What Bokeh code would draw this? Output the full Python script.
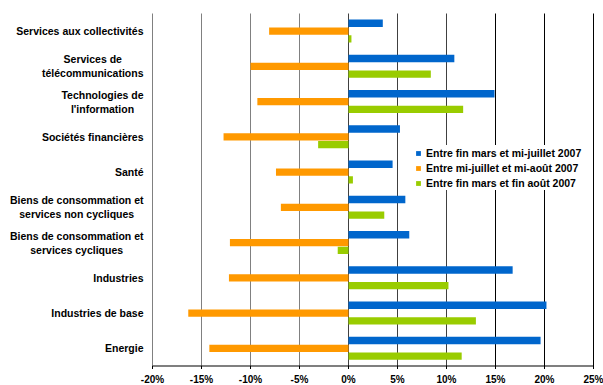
from bokeh.plotting import figure
from bokeh.models import ColumnDataSource, Range1d, Legend, LegendItem
from bokeh.core.properties import value
from bokeh.embed import file_html
from bokeh.resources import INLINE

# Sectors, listed top to bottom
sector_labels = ["Services aux collectivités", "Services de\ntélécommunications",
                 "Technologies de\nl'information", "Sociétés financières", "Santé",
                 "Biens de consommation et\nservices non cycliques",
                 "Biens de consommation et\nservices cycliques", "Industries",
                 "Industries de base", "Energie"]

# Performance (%) over each period
mars_juillet = [3.5, 10.8, 14.9, 5.25, 4.5, 5.8, 6.2, 16.75, 20.2, 19.6]
juillet_aout = [-8.1, -10.0, -9.3, -12.75, -7.4, -6.9, -12.1, -12.2, -16.35, -14.2]
mars_aout = [0.3, 8.4, 11.7, -3.1, 0.45, 3.65, -1.1, 10.2, 13.0, 11.55]

series_names = ["Entre fin mars et mi-juillet 2007",
                "Entre mi-juillet et mi-août 2007",
                "Entre fin mars et fin août 2007"]
x_ticks = [-20, -15, -10, -5, 0, 5, 10, 15, 20, 25]
x_tick_labels = ["-20%", "-15%", "-10%", "-5%", "0%", "5%", "10%", "15%", "20%", "25%"]

FONT = "Liberation Sans"
W, H = 603, 385
# pixel box of the bar panel inside the page
PANEL_L, PANEL_R, PANEL_T, PANEL_B = 152, 593, 13, 365.5
TICK_LABEL_Y = 379   # vertical centre of the percentage labels

n = len(sector_labels)
kx = (PANEL_R - PANEL_L) / (x_ticks[-1] - x_ticks[0])   # px per percent
ky = (PANEL_B - PANEL_T) / n                             # px per sector band
x_range = Range1d(x_ticks[0] - PANEL_L / kx, x_ticks[-1] + (W - PANEL_R) / kx)
y_range = Range1d(-(H - PANEL_B) / ky, n + PANEL_T / ky)

# one band per sector, first sector on top
centers = [n - i - 0.5 for i in range(n)]

p = figure(width=W, height=H, x_range=x_range, y_range=y_range,
           output_backend="svg", toolbar_location=None,
           min_border=0, min_border_left=0, min_border_right=0,
           min_border_top=0, min_border_bottom=0)
p.outline_line_color = None
p.background_fill_color = "white"
p.grid.visible = False
p.axis.visible = False

# vertical grid lines
grid_colors = ["#808080"] * 4 + ["#404040"] * 3 + ["#000000"] * 3
p.segment(x0=x_ticks, x1=x_ticks, y0=0, y1=n, line_color=grid_colors, line_width=1)

# bars
bar_h = 0.21
colors = ["#0066CC", "#FF9900", "#99CC00"]
offsets = [0.225, 0.0, -0.22]
renderers = []
for vals, off, col in zip((mars_juillet, juillet_aout, mars_aout), offsets, colors):
    src = ColumnDataSource(dict(y=[c + off for c in centers], v=vals))
    r = p.hbar(y="y", left=0, right="v", height=bar_h, fill_color=col,
               line_color=None, source=src)
    renderers.append(r)

# horizontal axis: line, outward ticks, percentage labels
tick_len = 3 / ky
p.segment(x0=[x_ticks[0]], x1=[x_ticks[-1]], y0=[0], y1=[0], line_color="black", line_width=1.2)
p.segment(x0=x_ticks, x1=x_ticks, y0=0, y1=-tick_len, line_color="black", line_width=1)
p.text(x=x_ticks, y=-(TICK_LABEL_Y - PANEL_B) / ky, text=x_tick_labels, text_align="center",
       text_baseline="middle", text_font=value(FONT), text_font_style="bold",
       text_font_size="10px", text_color="black")

# sector names, block right-aligned, lines centred
p.text(x=x_ticks[0] - 9 / kx, y=centers, text=sector_labels, anchor="center_right",
       text_align="center", text_baseline="middle", text_font=value(FONT),
       text_font_style="bold", text_font_size="10.5px", text_color="black",
       text_line_height=1.15)

legend = Legend(items=[LegendItem(label=s, renderers=[r]) for s, r in zip(series_names, renderers)],
                location=(415, 195), orientation="vertical",
                glyph_width=6, glyph_height=6, label_standoff=5,
                label_height=15, spacing=0, padding=3, margin=0,
                label_text_font=FONT, label_text_font_style="bold",
                label_text_font_size="10.5px", label_text_color="black",
                border_line_color=None, background_fill_color="white",
                background_fill_alpha=1.0)
p.add_layout(legend)

open("out.html", "w").write(file_html(p, INLINE))
